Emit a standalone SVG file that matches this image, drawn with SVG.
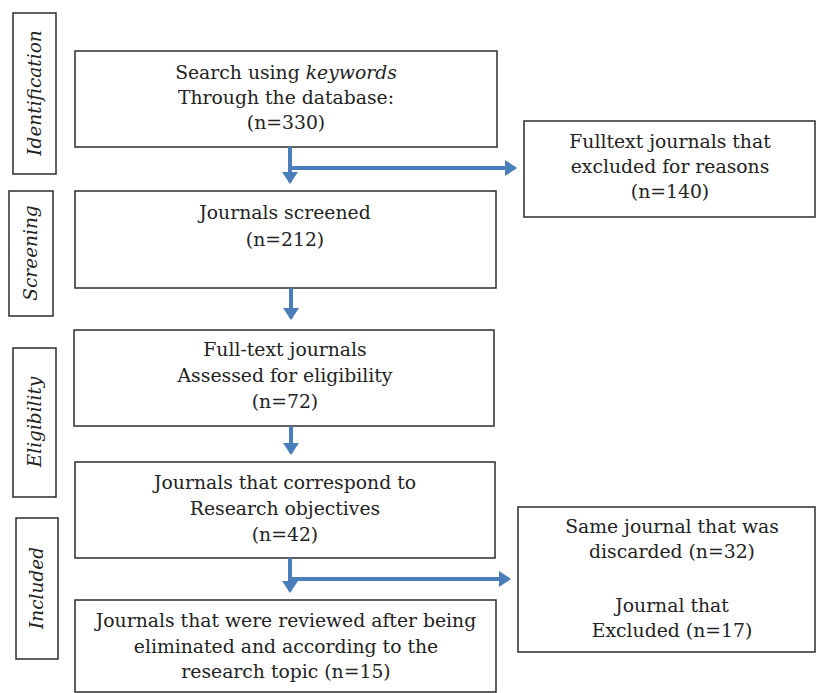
<svg xmlns="http://www.w3.org/2000/svg" width="817" height="693" viewBox="0 0 817 693">
<style>
.box{fill:#fff;stroke:#2b2b2b;stroke-width:1.5}
.t{font-family:"DejaVu Serif","Liberation Serif",serif;font-size:18.8px;fill:#222;text-anchor:middle}
.s{font-family:"DejaVu Serif","Liberation Serif",serif;font-size:18.5px;font-style:italic;fill:#222;text-anchor:middle}
.c{fill:none;stroke:#4a7ebb;stroke-width:4}
</style>
<defs>
<marker id="ah" markerWidth="4" markerHeight="4" refX="2.5" refY="2" orient="auto" markerUnits="strokeWidth">
<path d="M0,0 L3,2 L0,4 Z" fill="#4a7ebb"/>
</marker>
</defs>
<rect width="817" height="693" fill="#fff"/>
<g id="stage-identification"><rect class="box" x="13" y="13" width="43" height="161"/><text class="s" transform="translate(41,93) rotate(-90)">Identification</text></g>
<g id="stage-screening"><rect class="box" x="9" y="191" width="44" height="125"/><text class="s" transform="translate(37,253) rotate(-90)">Screening</text></g>
<g id="stage-eligibility"><rect class="box" x="13" y="348" width="43" height="149"/><text class="s" transform="translate(41,422) rotate(-90)">Eligibility</text></g>
<g id="stage-included"><rect class="box" x="16" y="518" width="42" height="141"/><text class="s" transform="translate(43,588) rotate(-90)">Included</text></g>
<g id="n1"><rect class="box" x="75" y="51" width="422" height="96"/><text class="t" x="286" y="79">Search using <tspan font-style="italic">keywords</tspan></text><text class="t" x="286" y="104">Through the database:</text><text class="t" x="286" y="129">(n=330)</text></g>
<g id="n2"><rect class="box" x="524" y="121" width="291" height="96"/><text class="t" x="670" y="148">Fulltext journals that</text><text class="t" x="670" y="173">excluded for reasons</text><text class="t" x="670" y="198">(n=140)</text></g>
<g id="n3"><rect class="box" x="75" y="191" width="421" height="97"/><text class="t" x="285" y="219">Journals screened</text><text class="t" x="285" y="246">(n=212)</text></g>
<g id="n4"><rect class="box" x="74" y="330" width="420" height="96"/><text class="t" x="285" y="356">Full-text journals</text><text class="t" x="285" y="382">Assessed for eligibility</text><text class="t" x="285" y="408">(n=72)</text></g>
<g id="n5"><rect class="box" x="75" y="462" width="420" height="96"/><text class="t" x="285" y="489">Journals that correspond to</text><text class="t" x="285" y="515">Research objectives</text><text class="t" x="285" y="541">(n=42)</text></g>
<g id="n6"><rect class="box" x="518" y="507" width="297" height="145"/><text class="t" x="672" y="533">Same journal that was</text><text class="t" x="672" y="558">discarded (n=32)</text><text class="t" x="672" y="612">Journal that</text><text class="t" x="672" y="637">Excluded (n=17)</text></g>
<g id="n7"><rect class="box" x="75" y="600" width="421" height="92"/><text class="t" x="286" y="627">Journals that were reviewed after being</text><text class="t" x="286" y="653">eliminated and according to the</text><text class="t" x="286" y="678">research topic (n=15)</text></g>
<g id="connectors">
<path class="c" d="M290,147 V182" marker-end="url(#ah)"/>
<path class="c" d="M290,168 H515" marker-end="url(#ah)"/>
<path class="c" d="M291,288 V318" marker-end="url(#ah)"/>
<path class="c" d="M291,426 V453" marker-end="url(#ah)"/>
<path class="c" d="M290,558 V591" marker-end="url(#ah)"/>
<path class="c" d="M290,579 H509" marker-end="url(#ah)"/>
</g>
</svg>
